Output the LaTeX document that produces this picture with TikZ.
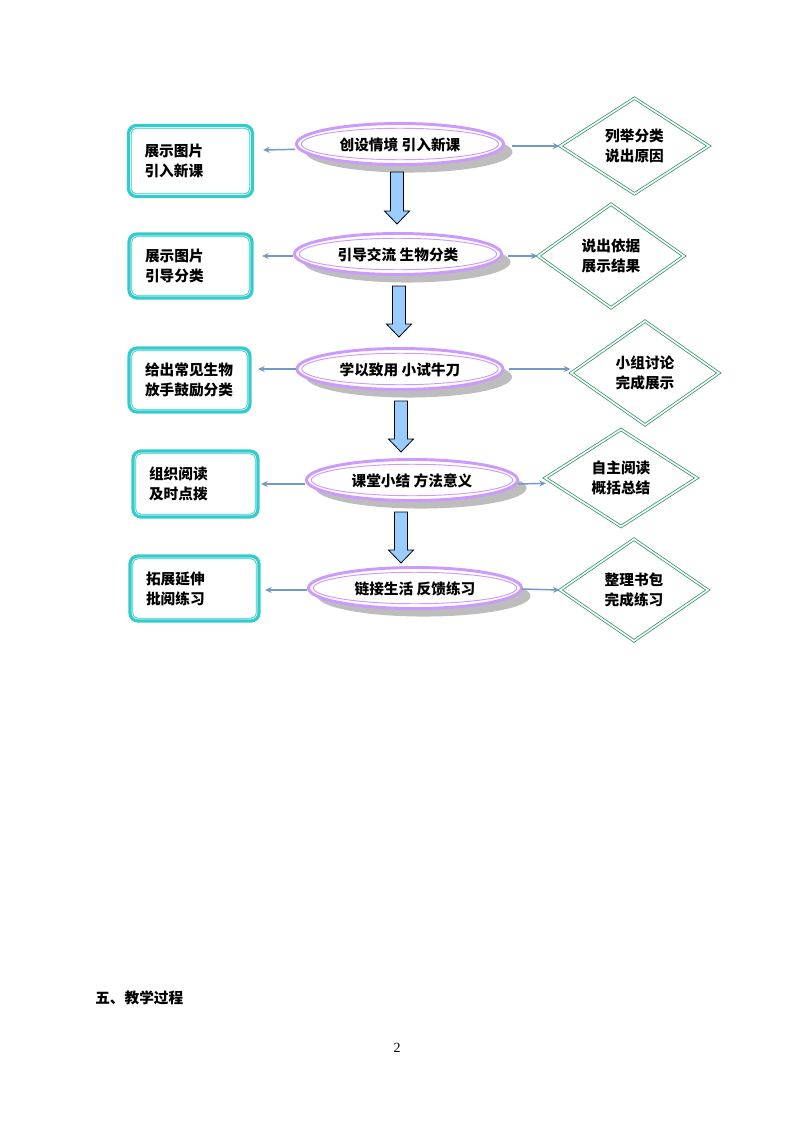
\documentclass[tikz,border=0pt]{standalone}
\usepackage{fontspec}
\setmainfont{Liberation Serif}
\newfontfamily\cjk{Noto Sans CJK SC}
\usetikzlibrary{shapes.geometric,arrows.meta}
\definecolor{pur}{HTML}{CC99FF}
\definecolor{tealb}{HTML}{33CCCC}
\definecolor{grn}{HTML}{339966}
\definecolor{arrb}{HTML}{7399C6}
\definecolor{blk}{HTML}{99CCFF}
\definecolor{shd}{HTML}{BDBDBD}
\tikzset{
  stage/.style={ellipse, draw=pur, fill=white, line width=2.2pt, inner sep=0pt,
    minimum height=30.75pt, font=\cjk\bfseries\fontsize{11pt}{13pt}\selectfont},
  leftbox/.style={rectangle, rounded corners=6pt, draw=tealb, fill=white, line width=2.4pt,
    inner xsep=12pt, inner ysep=0pt, align=left, font=\cjk\bfseries\fontsize{11pt}{15pt}\selectfont},
  rightdia/.style={diamond, draw=grn, fill=white, line width=0.6pt, double=white, double distance=1.2pt,
    inner sep=0pt, align=center, font=\cjk\bfseries\fontsize{11pt}{15pt}\selectfont},
  link/.style={draw=arrb, line width=1.1pt, -{Stealth[length=5pt,width=4.5pt]}},
  blockarr/.style={draw=black, line width=0.6pt, fill=blk},
}
\newcommand\stagenode[5]{% name, x, y, width(px), text
  \fill[shd] (#2+9,#3+8) ellipse [x radius=#4*0.375pt, y radius=15.4pt];
  \node[stage, minimum width=#4*0.75pt, text depth=-3pt] (#1) at (#2,#3) {#5};
  \draw[pur, line width=0.7pt] (#1.center) ellipse [x radius=#4*0.375pt-3.6pt, y radius=11.8pt];
}
\newcommand\boxnode[6]{% name, x, y, w, h, text
  \node[leftbox, text width=#4*0.75pt-24pt, minimum height=#5*0.75pt] (#1) at (#2,#3) {#6};
  \draw[tealb, line width=0.6pt, rounded corners=4pt]
     ([xshift=3.2pt,yshift=-3.2pt]#1.north west) rectangle ([xshift=-3.2pt,yshift=3.2pt]#1.south east);
}
\newcommand\blockdn[3]{% x, ytop, ybottom
  \draw[blockarr] (#1-6.5,#2) -- (#1+6.5,#2) -- (#1+6.5,#3-13) -- (#1+12.5,#3-13) -- (#1,#3)
     -- (#1-12.5,#3-13) -- (#1-6.5,#3-13) -- cycle;
}
\begin{document}
\begin{tikzpicture}[x=0.75pt,y=-0.75pt]
\useasboundingbox (0,0) rectangle (794,1123);

% row 1
\stagenode{e1}{400}{144}{207}{创设情境 引入新课}
\boxnode{l1}{190.5}{161}{124}{71}{展示图片\\引入新课}
\node[rightdia, minimum width=111.75pt, minimum height=72pt] (d1) at (634.5,146) {列举分类\\说出原因};
\coordinate (la1) at (263,150);
\draw[link] ([yshift=-4pt]e1.west) -- (la1);
\draw[link] (512,146) -- (d1.west);

% row 2
\stagenode{e2}{398}{254}{207}{引导交流 生物分类}
\boxnode{l2}{190.5}{266}{123}{64}{展示图片\\引导分类}
\node[rightdia, minimum width=109.5pt, minimum height=78pt] (d2) at (611,256) {说出依据\\展示结果};
\coordinate (la2) at (262,256);
\draw[link] ([yshift=-1.5pt]e2.west) -- (la2);
\draw[link] (508,256) -- (d2.west);

% row 3
\stagenode{e3}{400}{369}{206}{学以致用 小试牛刀}
\boxnode{l3}{189.5}{380}{121}{64}{给出常见生物\\放手鼓励分类}
\node[rightdia, minimum width=111pt, minimum height=78pt] (d3) at (645,373) {小组讨论\\完成展示};
\coordinate (la3) at (258,369);
\draw[link] (e3.west) -- (la3);
\draw[link] (509,369) -- ([yshift=3pt]d3.west);

% row 4
\stagenode{e4}{412}{480}{211}{课堂小结 方法意义}
\boxnode{l4}{195.5}{484}{125}{66}{组织阅读\\及时点拨}
\node[rightdia, minimum width=114pt, minimum height=73pt] (d4) at (621,478) {自主阅读\\概括总结};
\coordinate (la4) at (261,484);
\draw[link] ([yshift=-3pt]e4.west) -- (la4);
\draw[link] (518,484) -- ([xshift=1pt,yshift=-4pt]d4.west);

% row 5
\stagenode{e5}{415}{588}{213}{链接生活 反馈练习}
\boxnode{l5}{194.5}{588.5}{129}{65}{拓展延伸\\批阅练习}
\node[rightdia, minimum width=111pt, minimum height=76.5pt] (d5) at (634,590) {整理书包\\完成练习};
\coordinate (la5) at (265,590);
\draw[link] ([yshift=-1.5pt]e5.west) -- (la5);
\draw[link] (522,589) -- (d5.west);

% block arrows
\blockdn{397}{172}{224}
\blockdn{399}{286}{337}
\blockdn{401}{401}{452}
\blockdn{401}{512}{563}

\node[anchor=west, inner sep=0pt, font=\cjk\bfseries\fontsize{11pt}{13pt}\selectfont] (sec) at (95,998) {五、教学过程};
\node[font=\fontsize{10.5pt}{13pt}\selectfont] (pg) at (397,1048) {2};
\end{tikzpicture}
\end{document}
